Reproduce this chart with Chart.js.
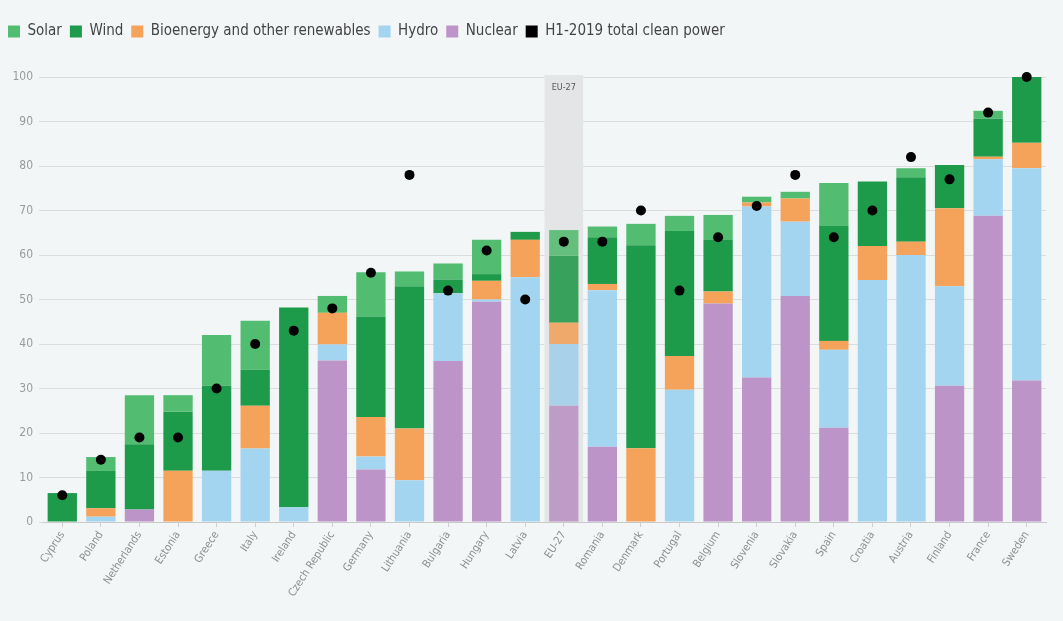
<!DOCTYPE html>
<html>
<head>
<meta charset="utf-8">
<title>Clean power share by country</title>
<script src="https://cdn.jsdelivr.net/npm/chart.js@4.4.1/dist/chart.umd.min.js"></script>
<style>
  html, body { margin: 0; padding: 0; background: #f3f6f7; }
  #wrap { width: 1063px; height: 621px; position: relative; }
</style>
</head>
<body>
<div id="wrap"><canvas id="c" width="1063" height="621"></canvas></div>
<script>
// Countries, ordered by total clean-power share
const countries = ["Cyprus", "Poland", "Netherlands", "Estonia", "Greece", "Italy", "Ireland",
  "Czech Republic", "Germany", "Lithuania", "Bulgaria", "Hungary", "Latvia", "EU-27",
  "Romania", "Denmark", "Portugal", "Belgium", "Slovenia", "Slovakia", "Spain",
  "Croatia", "Austria", "Finland", "France", "Sweden"];

// Share of generation by source (%)
const nuclear = [0, 0, 2.8, 0, 0, 0, 0, 36.3, 11.8, 0, 36.2, 49.5, 0, 26.1,
  16.9, 0, 0, 49.1, 32.5, 50.8, 21.2, 0, 0, 30.6, 68.8, 31.8];
const hydro = [0, 1.2, 0, 0, 11.5, 16.5, 3.3, 3.6, 2.9, 9.4, 15.2, 0.5, 55, 13.9,
  35.2, 0, 29.7, 0, 38.4, 16.7, 17.5, 54.4, 60, 22.4, 12.7, 47.7];
const bioenergy = [0, 1.9, 0, 11.5, 0, 9.6, 0, 7.1, 8.9, 11.6, 0, 4.2, 8.4, 4.8,
  1.4, 16.6, 7.6, 2.7, 0.9, 5.2, 2, 7.6, 3, 17.5, 0.6, 5.7];
const wind = [6.5, 8.4, 14.7, 13.3, 19.1, 8.1, 44.9, 0, 22.6, 32, 3.1, 1.5, 1.8, 15,
  10.5, 45.6, 28.1, 11.6, 0, 0, 25.8, 14.5, 14.5, 9.7, 8.6, 14.8];
const solar = [0, 3.1, 11, 3.7, 11.4, 11, 0, 3.8, 9.9, 3.3, 3.6, 7.7, 0, 5.8,
  2.4, 4.8, 3.4, 5.6, 1.3, 1.5, 9.7, 0, 2, 0, 1.7, 0];

// First-half 2019 total clean power (%)
const h1_2019 = [6, 14, 19, 19, 30, 40, 43, 48, 56, 78, 52, 61, 50, 63,
  63, 70, 52, 64, 71, 78, 64, 70, 82, 77, 92, 100];

const yTicks = [0, 10, 20, 30, 40, 50, 60, 70, 80, 90, 100];
const highlightLabel = "EU-27";

const FONT = "'Liberation Sans Narrow', 'DejaVu Sans Condensed', 'Roboto Condensed', 'Liberation Sans', sans-serif";

const colors = {
  solar: "#52bd70",
  wind: "#1e9b4a",
  bio: "#f5a35a",
  hydro: "#a3d4f0",
  nuclear: "#bd94c8"
};

// Blend a hex colour towards grey (used for the highlighted aggregate column)
function mute(hex, amt) {
  const n = parseInt(hex.slice(1), 16);
  const r = (n >> 16) & 255, g = (n >> 8) & 255, b = n & 255;
  const m = v => Math.round(v + (200 - v) * amt);
  return `rgb(${m(r)},${m(g)},${m(b)})`;
}
const hiIdx = countries.indexOf(highlightLabel);
function colorsFor(hex) {
  return countries.map((_, i) => i === hiIdx ? mute(hex, 0.15) : hex);
}

// Grey band behind the EU-27 column, with its label at the top
const bandPlugin = {
  id: "band",
  beforeDatasetsDraw(chart) {
    const { ctx, scales: { x, y }, chartArea } = chart;
    const cx = x.getPixelForValue(hiIdx);
    const w = (chartArea.right - chartArea.left) / countries.length;
    const top = y.getPixelForValue(100) - 2;
    ctx.save();
    ctx.fillStyle = "#e4e5e6";
    ctx.fillRect(cx - w / 2, top, w, chartArea.bottom - top);
    ctx.fillStyle = "#555";
    ctx.font = "9px " + FONT;
    ctx.textAlign = "center";
    ctx.textBaseline = "middle";
    ctx.fillText(highlightLabel, cx, top + 13);
    ctx.restore();
  }
};

// Leave extra room between the legend row and the plot
const legendGap = {
  id: "legendGap",
  beforeInit(chart) {
    const fit = chart.legend.fit;
    chart.legend.fit = function () {
      fit.call(this);
      this.height += 28;
    };
  }
};

const order = ["Solar", "Wind", "Bioenergy and other renewables", "Hydro", "Nuclear", "H1-2019 total clean power"];

new Chart(document.getElementById("c"), {
  type: "bar",
  data: {
    labels: countries,
    datasets: [
      { label: "Nuclear", data: nuclear, backgroundColor: colorsFor(colors.nuclear), stack: "s", order: 1 },
      { label: "Hydro", data: hydro, backgroundColor: colorsFor(colors.hydro), stack: "s", order: 1 },
      { label: "Bioenergy and other renewables", data: bioenergy, backgroundColor: colorsFor(colors.bio), stack: "s", order: 1 },
      { label: "Wind", data: wind, backgroundColor: colorsFor(colors.wind), stack: "s", order: 1 },
      { label: "Solar", data: solar, backgroundColor: colorsFor(colors.solar), stack: "s", order: 1 },
      {
        type: "line", label: "H1-2019 total clean power", data: h1_2019, stack: "dots",
        showLine: false, pointRadius: 5, pointHoverRadius: 5,
        pointBackgroundColor: "#000", pointBorderWidth: 0,
        backgroundColor: "#000", borderColor: "#000", borderWidth: 0, order: 0, clip: false
      }
    ]
  },
  options: {
    responsive: false,
    animation: false,
    devicePixelRatio: 1,
    layout: { padding: { left: 0, right: 17, top: 16, bottom: 0 } },
    datasets: { bar: { barPercentage: 0.76, categoryPercentage: 1.0 } },
    plugins: {
      tooltip: { enabled: false },
      legend: {
        position: "top",
        align: "start",
        labels: {
          boxWidth: 12, boxHeight: 12, padding: 8,
          color: "#444", font: { family: FONT, size: 15 },
          sort: (a, b) => order.indexOf(a.text) - order.indexOf(b.text)
        }
      }
    },
    scales: {
      x: {
        stacked: true,
        grid: { display: true, drawOnChartArea: false, drawTicks: true, tickLength: 5, color: "#cfcfcf", offset: false },
        border: { display: true, color: "#c9c9c9" },
        ticks: {
          autoSkip: false, maxRotation: 57, minRotation: 57,
          color: "#8e8e8e", font: { family: FONT, size: 11 }, padding: 2
        },
        afterFit(scale) { scale.height = 99; }
      },
      y: {
        stacked: true,
        min: 0, max: 100,
        afterBuildTicks(scale) { scale.ticks = yTicks.map(v => ({ value: v })); },
        grid: { color: "#dcdcdc", tickLength: 4, drawTicks: true },
        border: { display: false },
        ticks: { color: "#9a9a9a", font: { family: FONT, size: 12 }, padding: 6 },
        afterFit(scale) { scale.width = 43; }
      }
    }
  },
  plugins: [bandPlugin, legendGap]
});
</script>
</body>
</html>
